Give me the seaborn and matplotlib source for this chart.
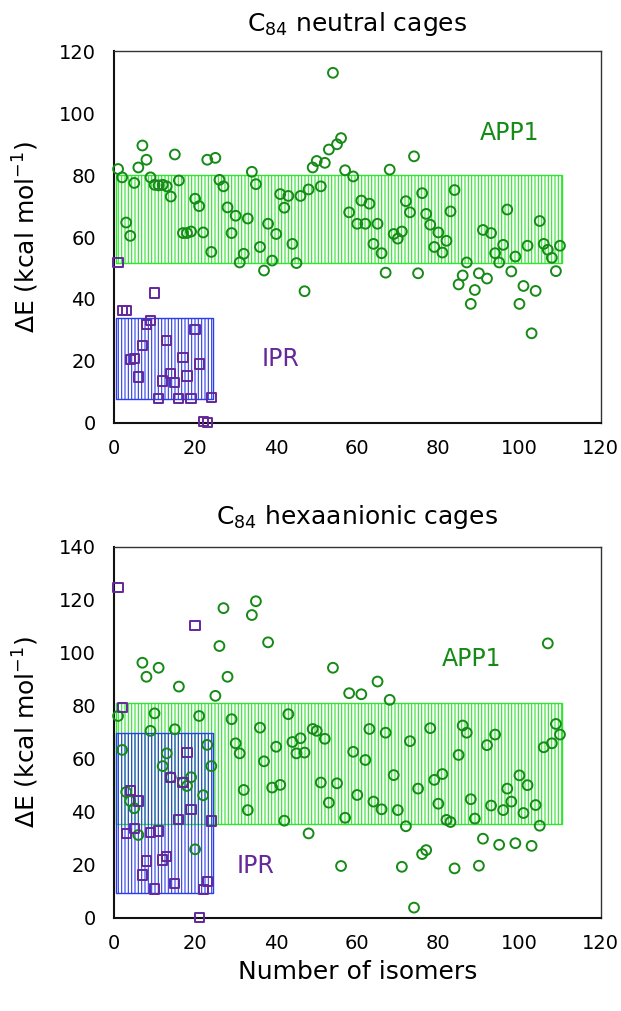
import numpy as np
import pandas as pd
import matplotlib
matplotlib.use("Agg")
import matplotlib.pyplot as plt
import seaborn as sns

# ---------------- data ----------------
app1_isomers = np.arange(1, 111)
ipr_isomers = np.arange(1, 25)

neutral_app1 = [82.0, 79.3, 64.7, 60.4, 77.5, 82.5, 89.6, 85.0, 79.3, 76.9,
                76.7, 76.9, 76.4, 73.1, 86.7, 78.3, 61.3, 61.3, 61.8, 72.4,
                70.0, 61.5, 85.0, 55.2, 85.6, 78.5, 76.4, 69.6, 61.3, 66.9,
                51.8, 54.6, 66.0, 81.1, 77.1, 56.8, 49.2, 64.3, 52.4, 61.0,
                73.9, 69.5, 73.3, 57.8, 51.6, 73.3, 42.5, 75.4, 82.5, 84.6,
                76.4, 84.0, 88.3, 113.1, 90.0, 92.0, 81.6, 68.0, 79.6, 64.3,
                71.8, 64.3, 70.8, 57.8, 64.3, 54.8, 48.5, 81.8, 61.0, 59.5,
                61.8, 71.6, 68.0, 86.1, 48.3, 74.2, 67.5, 64.0, 56.8, 61.5,
                55.0, 58.8, 68.3, 75.2, 44.7, 47.6, 51.8, 38.4, 42.9, 48.3,
                62.3, 46.6, 61.3, 54.8, 51.8, 57.5, 68.9, 48.9, 53.7, 38.4,
                44.2, 57.2, 28.9, 42.6, 65.2, 57.8, 55.9, 53.3, 49.0, 57.2]

neutral_ipr = [51.8, 36.2, 36.2, 20.5, 20.7, 14.8, 24.9, 31.8, 33.0, 41.9,
               7.8, 13.5, 26.5, 15.8, 12.9, 7.8, 21.2, 15.1, 7.8, 30.2,
               19.0, 0.3, 0.0, 8.1]

hexa_app1 = [76.1, 63.3, 47.4, 44.0, 41.3, 31.2, 96.2, 90.9, 70.5, 77.1,
             94.3, 57.2, 62.0, 53.0, 71.1, 87.2, 51.0, 49.7, 53.0, 25.8,
             76.1, 46.2, 65.2, 57.2, 83.7, 102.5, 116.8, 90.9, 74.9, 65.8,
             62.0, 48.2, 40.6, 114.2, 119.4, 71.7, 59.0, 103.9, 49.1, 64.5,
             50.1, 36.6, 76.8, 66.3, 62.0, 67.7, 62.3, 31.8, 71.2, 70.5,
             51.0, 67.5, 43.4, 94.3, 50.7, 19.5, 37.7, 84.7, 62.6, 46.3,
             84.3, 59.5, 71.2, 43.8, 89.1, 40.9, 69.8, 82.2, 53.8, 40.6,
             19.2, 34.5, 66.6, 3.8, 48.7, 24.0, 25.5, 71.5, 52.0, 43.0,
             54.2, 36.9, 36.1, 18.6, 61.4, 72.5, 69.8, 44.7, 37.4, 19.6,
             29.8, 65.1, 42.3, 69.1, 27.5, 40.6, 48.7, 43.8, 28.1, 53.7,
             39.5, 50.0, 27.1, 42.5, 34.7, 64.3, 103.5, 65.8, 73.1, 69.1]

hexa_ipr = [124.5, 79.2, 31.8, 47.9, 33.7, 44.0, 16.1, 21.4, 32.2, 10.8,
            32.7, 21.8, 23.0, 53.0, 13.0, 36.9, 51.0, 62.4, 40.9, 110.1,
            0.0, 10.7, 13.6, 36.5]

# shaded ranges (x span, y low/high)
app1_span = [0.5, 110.5]
ipr_span = [0.5, 24.5]
neutral_app1_band = [51.6, 80.0]
neutral_ipr_band = [7.6, 34.0]
hexa_app1_band = [35.2, 81.1]
hexa_ipr_band = [9.3, 69.6]

x_ticks = [0, 20, 40, 60, 80, 100, 120]
neutral_y_ticks = [0, 20, 40, 60, 80, 100, 120]
hexa_y_ticks = [0, 20, 40, 60, 80, 100, 120, 140]

titles = [r"C$_{84}$ neutral cages", r"C$_{84}$ hexaanionic cages"]
ylabel = r"ΔE (kcal mol$^{-1}$)"
xlabel = "Number of isomers"

# ---------------- style ----------------
sns.set_style("white")
plt.rcParams["font.family"] = ["DejaVu Sans"]
plt.rcParams["mathtext.fontset"] = "dejavusans"
plt.rcParams["hatch.linewidth"] = 0.8
plt.rcParams["text.color"] = "black"
plt.rcParams["axes.labelcolor"] = "black"
plt.rcParams["xtick.color"] = "black"
plt.rcParams["ytick.color"] = "black"

GREEN_MK = "#168a16"
GREEN_BAND = "#2ee62e"
BLUE_BAND = "#2b3de6"
PURPLE = "#64289a"

fig = plt.figure(figsize=(6.21, 10.11), dpi=100)
ax1 = fig.add_axes([0.1836, 0.5819, 0.7834, 0.3672])
ax2 = fig.add_axes([0.1836, 0.0923, 0.7834, 0.3670])


def draw_panel(ax, app1, ipr, app1_band, ipr_band, yticks, title, tpad,
               app1_xy, ipr_xy):
    ax.fill_between(app1_span, app1_band[0], app1_band[1], facecolor="none",
                    edgecolor=GREEN_BAND, hatch="|||||", linewidth=1.0, zorder=1)
    ax.fill_between(ipr_span, ipr_band[0], ipr_band[1], facecolor="none",
                    edgecolor=BLUE_BAND, hatch="|||||", linewidth=1.0, zorder=2)
    df_a = pd.DataFrame({"isomer": app1_isomers, "dE": app1})
    df_i = pd.DataFrame({"isomer": ipr_isomers, "dE": ipr})
    sns.scatterplot(data=df_a, x="isomer", y="dE", ax=ax, marker="o", s=50,
                    facecolor="none", edgecolor=GREEN_MK, linewidth=1.4,
                    zorder=3, clip_on=False)
    sns.scatterplot(data=df_i, x="isomer", y="dE", ax=ax, marker="s", s=44,
                    facecolor="none", edgecolor=PURPLE, linewidth=1.4,
                    zorder=4, clip_on=False)
    ax.set_xlim(0, 120)
    ax.set_ylim(yticks[0], yticks[-1])
    ax.set_xticks(x_ticks)
    ax.set_yticks(yticks)
    ax.tick_params(axis="both", direction="out", length=5, width=1.0,
                   labelsize=14, colors="black")
    ax.tick_params(axis="x", pad=7)
    ax.tick_params(axis="y", pad=8)
    for side in ["left", "bottom"]:
        ax.spines[side].set_linewidth(1.5)
        ax.spines[side].set_color("#111111")
    for side in ["top", "right"]:
        ax.spines[side].set_linewidth(1.0)
        ax.spines[side].set_color("#333333")
    ax.set_title(title, fontsize=18, pad=tpad, color="black")
    ax.set_xlabel("")
    ax.set_ylabel(ylabel, fontsize=18, color="black")
    ax.yaxis.set_label_coords(-0.15, 0.5)
    ax.text(app1_xy[0], app1_xy[1], "APP1", color=GREEN_MK, fontsize=17,
            ha="center", va="center")
    ax.text(ipr_xy[0], ipr_xy[1], "IPR", color=PURPLE, fontsize=17,
            ha="center", va="center")


draw_panel(ax1, neutral_app1, neutral_ipr, neutral_app1_band, neutral_ipr_band,
           neutral_y_ticks, titles[0], 15, (97.5, 93.8), (41, 20.6))
draw_panel(ax2, hexa_app1, hexa_ipr, hexa_app1_band, hexa_ipr_band,
           hexa_y_ticks, titles[1], 16, (88.1, 97.6), (34.8, 19.5))

ax2.set_xlabel(xlabel, fontsize=18, color="black")
ax2.xaxis.set_label_coords(0.5, -0.115)

fig.savefig("out.png", dpi=100)
